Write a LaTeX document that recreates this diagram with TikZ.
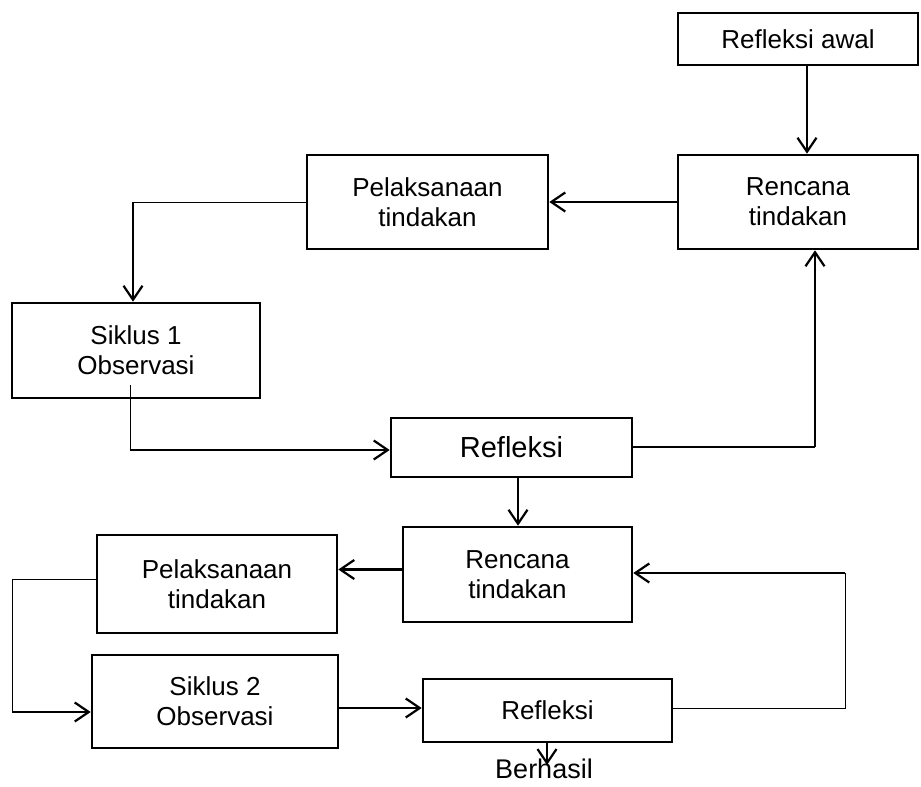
\documentclass[tikz,border=0pt]{standalone}
\usepackage{fontspec}
\setmainfont{Liberation Sans}
\usetikzlibrary{arrows.meta}
\begin{document}
\begin{tikzpicture}[x=1pt,y=-1pt,
  box/.style={draw,line width=2.6pt,rectangle,inner sep=0pt,align=center,
    font=\fontsize{26}{30}\selectfont},
  arr/.style={line width=2.2pt,-{Straight Barb[length=14pt,width=19pt,line width=2.2pt]}},
  thinline/.style={line width=1pt}]
\useasboundingbox (0,0) rectangle (921,787);
% boxes
\node[box,minimum width=240pt,minimum height=52pt] (awal) at (798,39) {Refleksi awal};
\node[box,minimum width=240pt,minimum height=94pt] (ren1) at (798,202) {Rencana\\tindakan};
\node[box,minimum width=241pt,minimum height=94pt] (pel1) at (427.5,202) {Pelaksanaan\\tindakan};
\node[box,minimum width=248pt,minimum height=95pt] (sik1) at (136,350.5) {Siklus 1\\Observasi};
\node[box,minimum width=241pt,minimum height=59pt,font=\fontsize{29}{32}\selectfont] (ref1) at (511.5,447.5) {Refleksi};
\node[box,minimum width=229pt,minimum height=95pt] (ren2) at (517.5,574.5) {Rencana\\tindakan};
\node[box,minimum width=240pt,minimum height=98pt] (pel2) at (217,584) {Pelaksanaan\\tindakan};
\node[box,minimum width=246pt,minimum height=93pt] (sik2) at (215,701.5) {Siklus 2\\Observasi};
\node[box,minimum width=249pt,minimum height=63pt] (ref2) at (547.5,710.5) {Refleksi};
\node[inner sep=0pt,font=\fontsize{27}{30}\selectfont,anchor=north] (berhasil) at (544,759) {Berhasil};
% helper coordinates
\coordinate (c1) at (133,202);
\coordinate (c2) at (130,385);
\coordinate (c3) at (130,450);
\coordinate (c4) at (815,447);
\coordinate (c5) at (518,447);
\coordinate (c6) at (12,579);
\coordinate (c7) at (12,712);
\coordinate (c8) at (845,708);
\coordinate (c9) at (845,573);
\coordinate (c10) at (547,765);
% connectors
\draw[arr] ([xshift=9pt]awal.south) -- ([xshift=9pt]ren1.north);
\draw[arr] (ren1.west) -- (pel1.east);
\draw[thinline] (pel1.west) -- (c1);
\draw[arr] (c1) -- (c1 |- sik1.north);
\draw[thinline] (c2) -- (c3);
\draw[arr] (c3) -- (c3 -| ref1.west);
\draw[line width=1.5pt] (ref1.east |- c4) -- (c4);
\draw[arr] (c4) -- (c4 |- ren1.south);
\draw[arr] (c5 |- ref1.south) -- (c5 |- ren2.north);
\draw[arr] ([yshift=5pt]ren2.west) -- ([yshift=5pt]ren2.west -| pel2.east);
\draw[thinline] (c6 -| pel2.west) -- (c6) -- (c7);
\draw[arr] (c7) -- (c7 -| sik2.west);
\draw[arr] (sik2.east |- c8) -- (c8 -| ref2.west);
\draw[thinline] (ref2.east |- c8) -- (c8) -- (c9);
\draw[arr] (c9) -- (c9 -| ren2.east);
\draw[arr] (c10 |- ref2.south) -- (c10);
\end{tikzpicture}
\end{document}
